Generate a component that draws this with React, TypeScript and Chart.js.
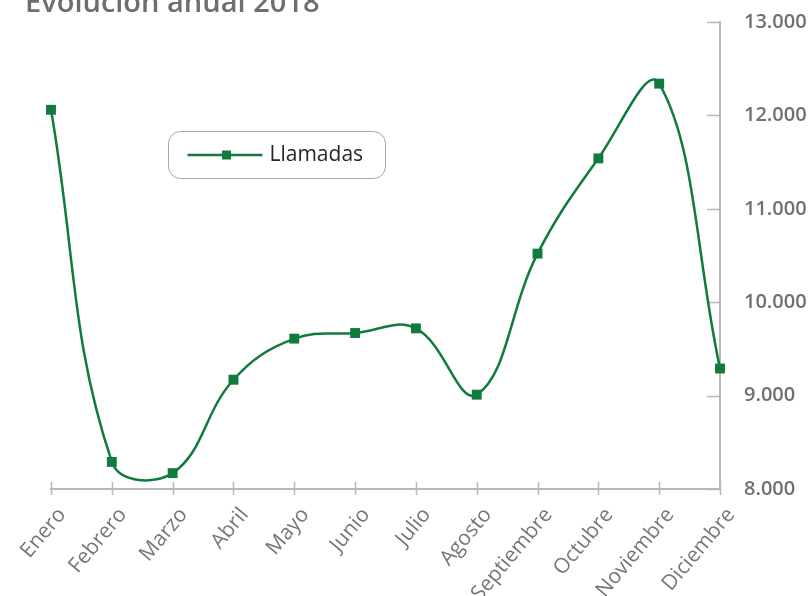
import React, { useEffect, useRef } from "react";
import { Chart, registerables } from "chart.js";

Chart.register(...registerables);

const TITLE = "Evolución anual 2018";
const SERIES_LABEL = "Llamadas";
const MONTHS = [
  "Enero", "Febrero", "Marzo", "Abril", "Mayo", "Junio",
  "Julio", "Agosto", "Septiembre", "Octubre", "Noviembre", "Diciembre",
];
const LLAMADAS = [12060, 8290, 8170, 9170, 9610, 9670, 9720, 9010, 10520, 11540, 12340, 9290];
const Y_MIN = 8000;
const Y_MAX = 13000;
const Y_STEP = 1000;

const GREEN = "#0f7b3c";
const AXIS = "#b9b9b9";
const FONT = "'Open Sans', sans-serif";

const fmt = (v: number) => String(Math.round(v)).replace(/\B(?=(\d{3})+(?!\d))/g, ".");

const decor = {
  id: "decor",
  beforeDatasetsDraw(chart: any) {
    const { ctx, chartArea: a, scales } = chart;
    const x = scales.x;
    const y = scales.y;
    ctx.save();
    ctx.strokeStyle = AXIS;
    ctx.lineWidth = 1.5;
    ctx.beginPath();
    x.ticks.forEach((_: any, i: number) => {
      const px = Math.round(x.getPixelForTick(i)) + 0.5;
      ctx.moveTo(px, a.bottom - 7);
      ctx.lineTo(px, a.bottom + 6);
    });
    y.ticks.forEach((t: any) => {
      const py = Math.round(y.getPixelForValue(t.value)) + 0.5;
      ctx.moveTo(a.right - 13, py);
      ctx.lineTo(a.right, py);
    });
    ctx.stroke();
    ctx.restore();
  },
  afterDraw(chart: any) {
    const { ctx, chartArea: a } = chart;
    ctx.save();
    // title (partially cut at top like the reference)
    ctx.fillStyle = "#6e6e6e";
    ctx.font = `600 29px ${FONT}`;
    ctx.textBaseline = "alphabetic";
    ctx.textAlign = "left";
    ctx.fillText(TITLE, 25, 12);

    // legend box
    const bx = a.left + 117.5;
    const by = a.top + 109.5;
    const bw = 217;
    const bh = 47;
    const r = 12;
    ctx.beginPath();
    ctx.moveTo(bx + r, by);
    ctx.arcTo(bx + bw, by, bx + bw, by + bh, r);
    ctx.arcTo(bx + bw, by + bh, bx, by + bh, r);
    ctx.arcTo(bx, by + bh, bx, by, r);
    ctx.arcTo(bx, by, bx + bw, by, r);
    ctx.closePath();
    ctx.fillStyle = "#ffffff";
    ctx.fill();
    ctx.strokeStyle = "#a6a6a6";
    ctx.lineWidth = 1;
    ctx.stroke();

    const cy = by + bh / 2;
    ctx.strokeStyle = GREEN;
    ctx.lineWidth = 2.5;
    ctx.beginPath();
    ctx.moveTo(bx + 19, cy);
    ctx.lineTo(bx + 94, cy);
    ctx.stroke();
    ctx.fillStyle = GREEN;
    ctx.fillRect(bx + 58 - 4.5, cy - 4.5, 9, 9);

    ctx.fillStyle = "#262626";
    ctx.font = `400 21px ${FONT}`;
    ctx.textBaseline = "middle";
    ctx.fillText(SERIES_LABEL, bx + 101, cy);
    ctx.restore();
  },
};

export default function App() {
  const ref = useRef<HTMLCanvasElement>(null);

  useEffect(() => {
    if (!ref.current) return;
    const chart = new Chart(ref.current, {
      type: "line",
      data: {
        labels: MONTHS,
        datasets: [
          {
            label: SERIES_LABEL,
            data: LLAMADAS,
            borderColor: GREEN,
            backgroundColor: GREEN,
            borderWidth: 2.5,
            tension: 0.4,
            pointStyle: "rect",
            pointRadius: 7,
            pointHoverRadius: 7,
            pointBorderWidth: 0,
            pointBackgroundColor: GREEN,
            clip: false as any,
          },
        ],
      },
      options: {
        animation: false,
        responsive: false,
        layout: { padding: { left: 51, top: 22, right: 0, bottom: 0 } },
        plugins: {
          legend: { display: false },
          title: { display: false },
          tooltip: { enabled: false },
        },
        scales: {
          x: {
            grid: { display: false },
            border: { display: true, color: AXIS, width: 2 },
            ticks: {
              color: "#777777",
              font: { family: FONT, size: 21 },
              maxRotation: 50,
              minRotation: 50,
              padding: 6,
              labelOffset: 11,
              autoSkip: false,
            },
            afterFit: (s: any) => {
              s.height = 107;
              s.paddingLeft = 0;
              s.paddingRight = 0;
            },
          },
          y: {
            position: "right",
            min: Y_MIN,
            max: Y_MAX,
            grid: { display: false },
            border: { display: true, color: AXIS, width: 2 },
            ticks: {
              stepSize: Y_STEP,
              color: "#707070",
              font: { family: FONT, size: 20, weight: "600" as any },
              padding: 16,
              callback: (v: any) => fmt(Number(v)),
            },
            afterFit: (s: any) => {
              s.width = 91;
              s.paddingTop = 0;
              s.paddingBottom = 0;
            },
          },
        },
      },
      plugins: [decor],
    });
    return () => chart.destroy();
  }, []);

  return (
    <div style={{ position: "fixed", left: 0, top: 0, width: 811, height: 596, background: "#fff" }}>
      <canvas ref={ref} width={811} height={596} style={{ display: "block" }} />
    </div>
  );
}
